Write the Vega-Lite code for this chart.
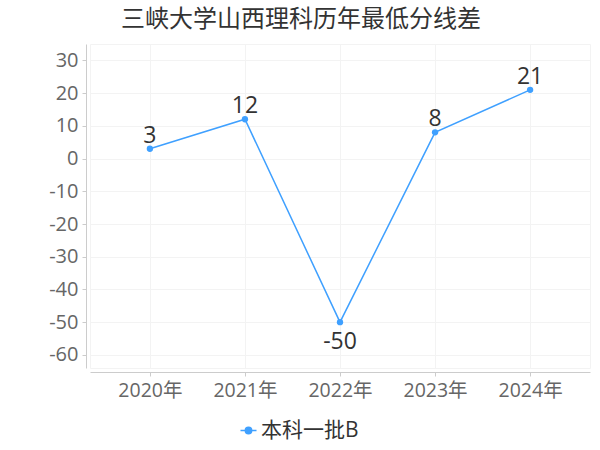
{
  "$schema": "https://vega.github.io/schema/vega-lite/v6.json",
  "width": 500,
  "height": 324,
  "autosize": "none",
  "padding": {"left": 90, "top": 44, "right": 10, "bottom": 82},
  "background": "white",
  "config": {
    "font": "Open Sans, Noto Sans CJK SC",
    "view": {"stroke": "#f3f3f3"}
  },
  "title": {
    "text": "三峡大学山西理科历年最低分线差",
    "font": "Noto Sans CJK SC",
    "fontSize": 24,
    "fontWeight": "normal",
    "color": "#333333",
    "anchor": "middle",
    "dx": -39,
    "offset": 12
  },
  "data": {
    "values": [
      {"year": "2020年", "value": 3, "series": "本科一批B"},
      {"year": "2021年", "value": 12, "series": "本科一批B"},
      {"year": "2022年", "value": -50, "series": "本科一批B"},
      {"year": "2023年", "value": 8, "series": "本科一批B"},
      {"year": "2024年", "value": 21, "series": "本科一批B"}
    ]
  },
  "encoding": {
    "x": {
      "field": "year",
      "type": "ordinal",
      "scale": {"type": "point", "padding": 0.63},
      "axis": {
        "title": null,
        "labelAngle": 0,
        "labelFontSize": 19.5,
        "labelColor": "#666666",
        "labelPadding": 5,
        "domainColor": "#cccccc",
        "tickColor": "#cccccc",
        "tickSize": 4,
        "offset": 4,
        "grid": true,
        "gridColor": "#f3f3f3"
      }
    },
    "y": {
      "field": "value",
      "type": "quantitative",
      "scale": {"domain": [-64, 35], "nice": false, "zero": false},
      "axis": {
        "title": null,
        "values": [-60, -50, -40, -30, -20, -10, 0, 10, 20, 30],
        "labelExpr": "'' + datum.value",
        "labelFontSize": 20,
        "labelColor": "#666666",
        "labelPadding": 4,
        "domainColor": "#cccccc",
        "tickColor": "#cccccc",
        "tickSize": 4,
        "offset": 4,
        "grid": true,
        "gridColor": "#f3f3f3"
      }
    }
  },
  "layer": [
    {
      "mark": {"type": "line", "strokeWidth": 1.5, "point": {"filled": true, "size": 40}},
      "encoding": {
        "color": {
          "field": "series",
          "type": "nominal",
          "scale": {"range": ["#3fa0ff"]},
          "legend": {
            "title": null,
            "orient": "none",
            "legendX": 148,
            "legendY": 376,
            "labelFontSize": 21,
            "labelColor": "#333333",
            "symbolType": "M-1,0L-0.4,0M0.4,0L1,0M-0.4,0A0.4,0.4 0 1,1 0.4,0A0.4,0.4 0 1,1 -0.4,0Z",
            "symbolSize": 256,
            "symbolStrokeWidth": 1.5,
            "labelOffset": 2
          }
        }
      }
    },
    {
      "transform": [{"filter": "datum.value >= 0"}],
      "mark": {"type": "text", "fontSize": 23, "color": "#333333", "baseline": "bottom", "dy": -1},
      "encoding": {"text": {"field": "value", "type": "nominal"}}
    },
    {
      "transform": [{"filter": "datum.value < 0"}],
      "mark": {"type": "text", "fontSize": 23, "color": "#333333", "baseline": "top", "dy": 9},
      "encoding": {"text": {"field": "value", "type": "nominal"}}
    }
  ]
}
